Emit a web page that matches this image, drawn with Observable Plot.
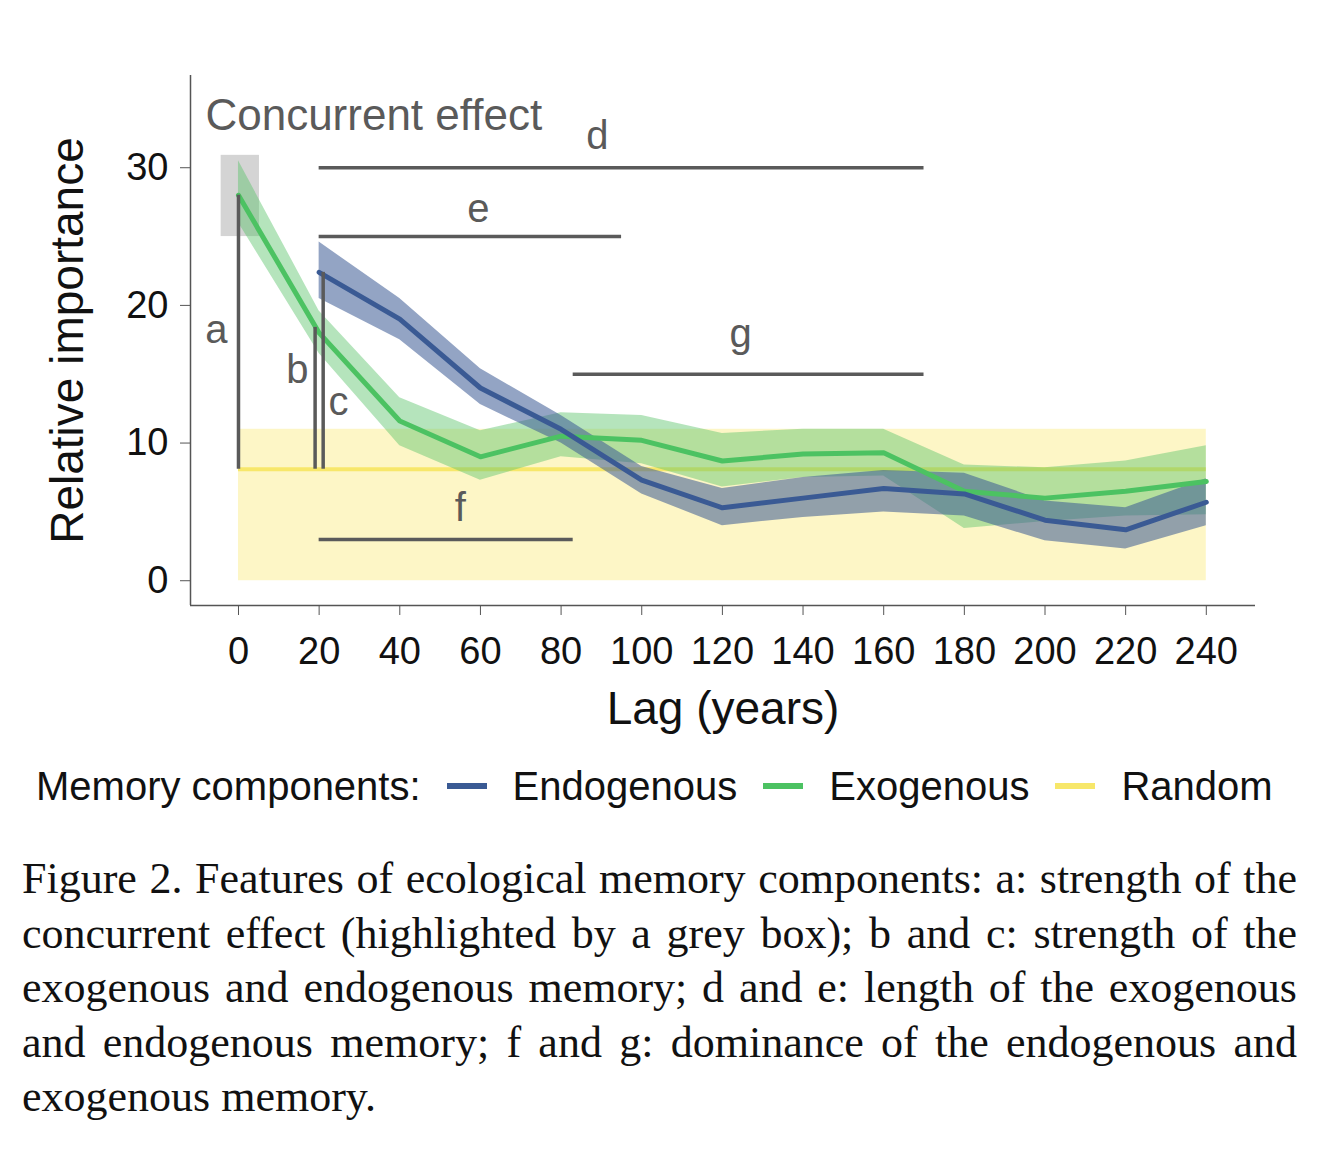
<!DOCTYPE html>
<html>
<head>
<meta charset="UTF-8">
<script src="https://cdn.jsdelivr.net/npm/d3@7"></script>
<script src="https://cdn.jsdelivr.net/npm/@observablehq/plot@0.6"></script>
<style>
  body { margin: 0; background: #fff; font-family: "Liberation Sans", Arial, sans-serif; }
  #chart { width: 1319px; }
  .legend { display: flex; align-items: center; font-size: 40px; color: #111; margin: 16px 0 0 36px; height: 60px; }
  .legend .sw { display: inline-block; width: 40px; height: 6px; margin: 0 26px 0 26px; }
  .caption { font-family: "Liberation Serif", "DejaVu Serif", serif; font-size: 44px; line-height: 54.5px;
    text-align: justify; margin: 36px 22px 0 22px; color: #111; }
</style>
</head>
<body>
<div id="chart"></div>
<div class="legend">Memory components:<span class="sw" style="background:#3a5a94"></span>Endogenous<span class="sw" style="background:#4cc262"></span>Exogenous<span class="sw" style="background:#f7e76a"></span>Random</div>
<div class="caption">Figure 2. Features of ecological memory components: a: strength of the concurrent effect (highlighted by a grey box); b and c: strength of the exogenous and endogenous memory; d and e: length of the exogenous and endogenous memory; f and g: dominance of the endogenous and exogenous memory.</div>
<script>
const lags = [0, 20, 40, 60, 80, 100, 120, 140, 160, 180, 200, 220, 240];
const endoLag = [20, 40, 60, 80, 100, 120, 140, 160, 180, 200, 220, 240];
const endoMean = [22.4, 19.0, 14.0, 11.0, 7.3, 5.3, 6.0, 6.7, 6.3, 4.4, 3.7, 5.7];
const endoLow = [20.5, 17.5, 12.8, 10.0, 6.3, 4.0, 4.6, 5.0, 4.7, 2.9, 2.3, 4.0];
const endoHigh = [24.6, 20.5, 15.4, 12.0, 8.3, 6.7, 7.5, 8.0, 7.8, 5.8, 5.3, 7.4];
const exoMean = [28.0, 18.0, 11.6, 9.0, 10.5, 10.2, 8.7, 9.2, 9.3, 6.5, 6.0, 6.5, 7.2];
const exoLow = [26.0, 16.5, 9.8, 7.3, 9.0, 8.5, 6.8, 7.5, 7.6, 3.8, 4.3, 4.7, 4.8];
const exoHigh = [30.5, 19.6, 13.3, 10.9, 12.2, 12.0, 10.7, 11.0, 11.0, 8.4, 8.2, 8.7, 9.8];
const randomMean = 8.1, randomLow = 0, randomHigh = 11.0;

const endo = endoLag.map((x, i) => ({x, y: endoMean[i], lo: endoLow[i], hi: endoHigh[i]}));
const exo = lags.map((x, i) => ({x, y: exoMean[i], lo: exoLow[i], hi: exoHigh[i]}));

const hSegs = [
  {x1: 20, x2: 170, y: 30}, {x1: 20, x2: 95, y: 25},
  {x1: 83, x2: 170, y: 15}, {x1: 20, x2: 83, y: 3}
];
const vSegs = [
  {x: 0, y1: randomMean, y2: 28}, {x: 19, y1: randomMean, y2: 18.4}, {x: 21, y1: randomMean, y2: 22.4}
];
const letters = [
  {x: -5.5, y: 18.2, t: "a"}, {x: 14.6, y: 15.3, t: "b"}, {x: 24.8, y: 13, t: "c"},
  {x: 89, y: 32.3, t: "d"}, {x: 59.5, y: 27, t: "e"}, {x: 55, y: 5.3, t: "f"}, {x: 124.5, y: 17.9, t: "g"}
];
const grey = "#5a5a5a";

const chart = Plot.plot({
  width: 1319, height: 740,
  marginLeft: 190, marginRight: 64, marginTop: 75, marginBottom: 135,
  style: {fontFamily: "Liberation Sans, Arial, sans-serif", color: "#111"},
  x: {domain: [-11.9, 252.2], ticks: d3.range(0, 241, 20)},
  y: {domain: [-1.8, 36.7], ticks: [0, 10, 20, 30]},
  marks: [
    Plot.rectY([{x1: 0, x2: 240}], {x1: "x1", x2: "x2", y1: randomLow, y2: randomHigh, fill: "#fcf4b8", fillOpacity: 0.8}),
    Plot.rect([{}], {x1: -4.3, x2: 5.2, y1: 25, y2: 30.9, fill: "#d4d4d4"}),
    Plot.ruleY([randomMean], {x1: 0, x2: 240, stroke: "#f7e76a", strokeWidth: 4}),
    Plot.areaY(exo, {x: "x", y1: "lo", y2: "hi", fill: "#5cc36a", fillOpacity: 0.45}),
    Plot.areaY(endo, {x: "x", y1: "lo", y2: "hi", fill: "#3a5a94", fillOpacity: 0.55}),
    Plot.lineY(exo, {x: "x", y: "y", stroke: "#4cc262", strokeWidth: 5}),
    Plot.lineY(endo, {x: "x", y: "y", stroke: "#3a5a94", strokeWidth: 5}),
    Plot.ruleY(hSegs, {x1: "x1", x2: "x2", y: "y", stroke: grey, strokeWidth: 3.5}),
    Plot.ruleX(vSegs, {x: "x", y1: "y1", y2: "y2", stroke: grey, strokeWidth: 3.5}),
    Plot.text(letters, {x: "x", y: "y", text: "t", fill: grey, fontSize: 40}),
    Plot.text(["Concurrent effect"], {x: -8.2, y: 33.8, text: d => d, textAnchor: "start", fill: grey, fontSize: 44}),
    Plot.ruleX([-11.9], {y1: -1.8, y2: 36.7, stroke: "#555", strokeWidth: 1.5}),
    Plot.ruleY([-1.8], {x1: -11.9, x2: 252.2, stroke: "#555", strokeWidth: 1.5}),
    Plot.axisX({ticks: d3.range(0, 241, 20), tickSize: 10, tickPadding: 22, fontSize: 38, stroke: "#555",
      label: "Lag (years)", labelAnchor: "center", labelOffset: 118, labelArrow: "none"}),
    Plot.axisY({ticks: [0, 10, 20, 30], tickSize: 10, tickPadding: 12, fontSize: 38, stroke: "#555",
      label: "Relative importance", labelAnchor: "center", labelOffset: 140, labelArrow: "none"})
  ]
});
chart.querySelectorAll("[aria-label='x-axis label'] text, [aria-label='y-axis label'] text").forEach(t => {
  t.setAttribute("font-size", 46); t.setAttribute("fill", "#111");
});
document.querySelector("#chart").append(chart);
</script>
</body>
</html>
